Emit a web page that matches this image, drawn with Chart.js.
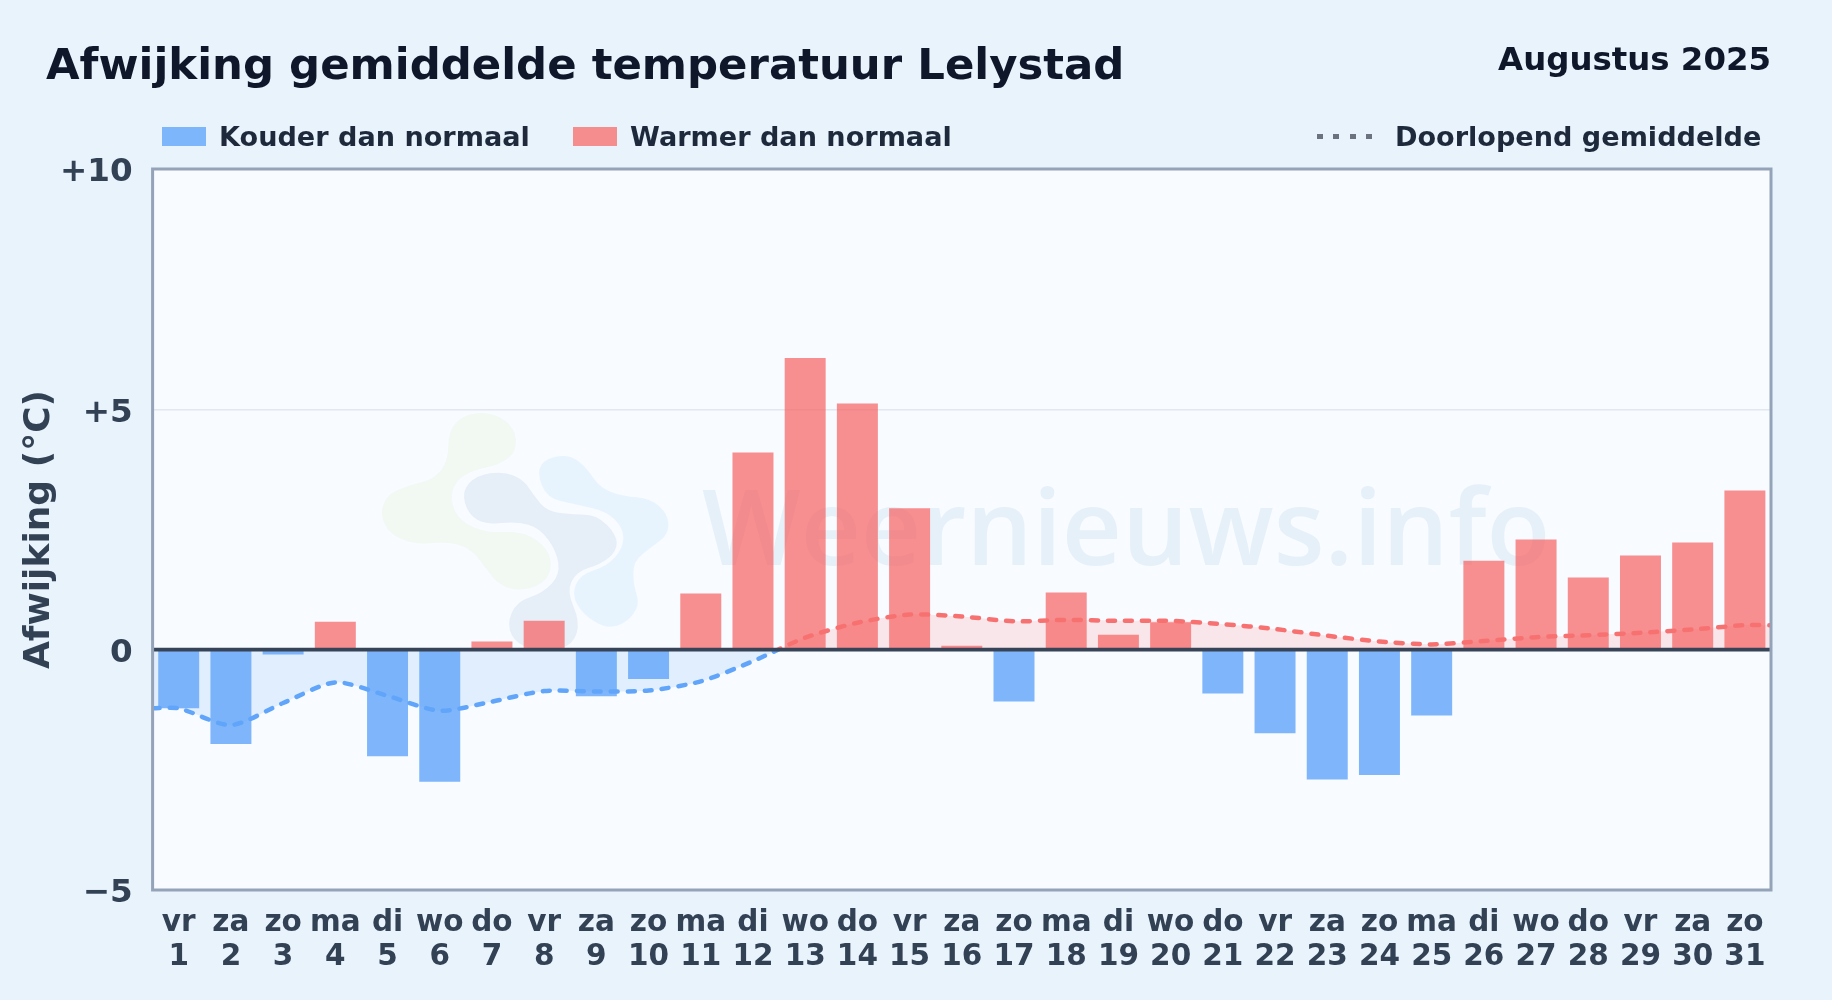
<!DOCTYPE html>
<html lang="nl">
<head>
<meta charset="utf-8">
<title>Afwijking gemiddelde temperatuur Lelystad</title>
<script src="https://cdn.jsdelivr.net/npm/chart.js@4"></script>
<style>
  html, body { margin: 0; padding: 0; background: #e8f3fc; }
  #wrap { position: relative; width: 1832px; height: 1000px; overflow: hidden; font-family: "DejaVu Sans", sans-serif; font-weight: bold; }
  #myChart { position: absolute; left: 0; top: 0; }
  .txt { position: absolute; white-space: nowrap; line-height: 1; }
  #title { left: 46px; top: 43px; font-size: 43.4px; color: #0f172a; }
  #month { right: 61px; top: 43px; font-size: 32.4px; color: #0f172a; }
  .lg { top: 123px; font-size: 27.1px; color: #1e293b; }
  .swatch { position: absolute; top: 127px; width: 44px; height: 19px; }
  #dots { position: absolute; left: 1317px; top: 134px; width: 56px; height: 5px; background: repeating-linear-gradient(90deg, #6b7280 0 6px, transparent 6px 16.4px); }
</style>
</head>
<body>
<div id="wrap">
  <canvas id="myChart" width="1832" height="1000"></canvas>
  <div class="txt" id="title">Afwijking gemiddelde temperatuur Lelystad</div>
  <div class="txt" id="month">Augustus 2025</div>
  <div class="swatch" style="left:162px;background:#7eb6fb"></div>
  <div class="txt lg" style="left:219px">Kouder dan normaal</div>
  <div class="swatch" style="left:573px;background:#f58d8f"></div>
  <div class="txt lg" style="left:630px">Warmer dan normaal</div>
  <div id="dots"></div>
  <div class="txt lg" style="left:1395px">Doorlopend gemiddelde</div>
</div>
<script>
var weekdays = ['vr','za','zo','ma','di','wo','do','vr','za','zo','ma','di','wo','do','vr','za','zo','ma','di','wo','do','vr','za','zo','ma','di','wo','do','vr','za','zo'];
var days = [1,2,3,4,5,6,7,8,9,10,11,12,13,14,15,16,17,18,19,20,21,22,23,24,25,26,27,28,29,30,31];
var deviation = [-1.22,-1.96,-0.1,0.58,-2.22,-2.75,0.17,0.6,-0.97,-0.61,1.17,4.1,6.07,5.12,2.94,0.08,-1.08,1.19,0.31,0.57,-0.91,-1.74,-2.7,-2.61,-1.37,1.85,2.29,1.5,1.96,2.23,3.31];
var runningMean = [-1.22,-1.57,-1.11,-0.68,-0.96,-1.27,-1.08,-0.86,-0.87,-0.85,-0.66,-0.24,0.25,0.56,0.73,0.69,0.59,0.62,0.6,0.6,0.53,0.43,0.29,0.17,0.11,0.18,0.26,0.3,0.35,0.42,0.51];
var yTicks = {'10':'+10','5':'+5','0':'0','-5':'\u22125'};

var FONT = '"DejaVu Sans", sans-serif';

// the mean runs on to both plot edges, so it gets its own hidden x axis
var meanPoints = [{x: 0.5, y: runningMean[0]}];
days.forEach(function (d, i) { meanPoints.push({x: d, y: runningMean[i]}); });
meanPoints.push({x: 31.5, y: runningMean[30]});

// closed smooth blob through the given points, for the faint logo
function blob(c, pts, ox, oy, s) {
  var n = pts.length;
  c.beginPath();
  for (var i = 0; i < n; i++) {
    var a = pts[i], b = pts[(i + 1) % n];
    var mx = ox + (a[0] + b[0]) / 2 * s, my = oy + (a[1] + b[1]) / 2 * s;
    if (i === 0) c.moveTo(mx, my);
    else c.quadraticCurveTo(ox + a[0] * s, oy + a[1] * s, mx, my);
  }
  var a0 = pts[0], b0 = pts[1];
  c.quadraticCurveTo(ox + a0[0] * s, oy + a0[1] * s, ox + (a0[0] + b0[0]) / 2 * s, oy + (a0[1] + b0[1]) / 2 * s);
  c.closePath();
  c.fill();
}

var logoGreen = [[265,130],[310,80],[400,72],[465,120],[470,190],[420,230],[340,245],[285,280],[270,340],[300,400],[380,435],[480,430],[550,465],[580,530],[550,590],[470,610],[410,585],[370,530],[330,480],[260,460],[170,470],[90,440],[60,380],[80,320],[150,290],[220,275],[265,220]];
var logoSlate = [[305,310],[350,262],[430,250],[490,275],[520,320],[560,370],[640,380],[710,380],[770,440],[770,490],[720,530],[650,550],[620,610],[660,700],[640,770],[560,795],[470,770],[440,710],[470,640],[550,615],[600,560],[590,490],[540,420],[470,400],[380,410],[325,380]];
var logoSky = [[530,250],[560,210],[630,200],[680,240],[720,300],[790,325],[870,330],[925,380],[925,440],[870,480],[820,520],[820,590],[840,650],[800,705],[740,722],[670,680],[635,620],[660,560],[740,535],[790,480],[790,420],[740,370],[650,350],[560,330]];

var plotDecor = {
  id: 'plotDecor',
  beforeDraw: function (chart) {
    var c = chart.ctx, a = chart.chartArea;
    c.save();
    c.fillStyle = '#f8fbff';
    c.fillRect(a.left, a.top, a.width, a.height);
    c.fillStyle = '#f2f8f2'; blob(c, logoGreen, 360, 388, 1 / 3);
    c.fillStyle = '#e6eef7'; blob(c, logoSlate, 360, 388, 1 / 3);
    c.fillStyle = '#e7f4fe'; blob(c, logoSky, 360, 388, 1 / 3);
    c.font = '600 104.5px "Open Sans", sans-serif';
    c.fillStyle = '#e6f0f9';
    c.textBaseline = 'alphabetic';
    c.fillText('Weernieuws.info', 702, 565);
    c.restore();
  },
  afterDatasetsDraw: function (chart) {
    var c = chart.ctx, a = chart.chartArea, y0 = chart.scales.y.getPixelForValue(0);
    c.save();
    c.strokeStyle = '#374357';
    c.lineWidth = 3.8;
    c.beginPath(); c.moveTo(a.left, y0); c.lineTo(a.right, y0); c.stroke();
    c.strokeStyle = '#94a3b8';
    c.lineWidth = 3;
    c.strokeRect(a.left, a.top, a.width, a.height);
    c.restore();
  }
};

// hard colour change where the mean crosses zero
function meanColor(ctx) {
  var chart = ctx.chart, a = chart.chartArea;
  if (!a) return '#60a5fa';
  var g = chart.ctx.createLinearGradient(0, a.top, 0, a.bottom);
  var stop = (chart.scales.y.getPixelForValue(0) - a.top) / a.height;
  g.addColorStop(0, '#f87171');
  g.addColorStop(stop, '#f87171');
  g.addColorStop(stop, '#60a5fa');
  g.addColorStop(1, '#60a5fa');
  return g;
}

var ctx = document.getElementById('myChart').getContext('2d');
var myChart = new Chart(ctx, {
  data: {
    labels: days.map(function (d, i) { return [weekdays[i], String(d)]; }),
    datasets: [
      {
        type: 'line',
        label: 'Doorlopend gemiddelde',
        data: meanPoints,
        xAxisID: 'x2',
        order: 0,
        borderColor: meanColor,
        borderWidth: 4.5,
        borderDash: [7, 10],
        borderCapStyle: 'round',
        pointRadius: 0,
        tension: 0.25,
        fill: { target: { value: 0 }, above: 'rgba(248,113,113,0.15)', below: 'rgba(96,165,250,0.15)' }
      },
      {
        type: 'bar',
        label: 'Afwijking',
        data: deviation,
        order: 1,
        grouped: false,
        barPercentage: 0.785,
        categoryPercentage: 1,
        backgroundColor: function (c) { return c.raw < 0 ? 'rgba(96,165,250,0.8)' : 'rgba(246,100,100,0.72)'; }
      }
    ]
  },
  options: {
    responsive: false,
    animation: false,
    layout: { padding: { top: 169, right: 61, left: 0, bottom: 0 } },
    plugins: { legend: { display: false }, title: { display: false }, tooltip: { enabled: false } },
    scales: {
      x: {
        grid: { display: false },
        border: { display: false },
        afterFit: function (s) { s.height = 110; },
        ticks: {
          color: '#334155',
          font: { family: FONT, size: 29.5, weight: 'bold', lineHeight: 1.15 },
          autoSkip: false, maxRotation: 0, minRotation: 0, padding: 8
        }
      },
      x2: { type: 'linear', display: false, min: 0.5, max: 31.5 },
      y: {
        min: -5,
        max: 10,
        afterFit: function (s) { s.width = 152.6; },
        border: { display: false },
        grid: {
          drawTicks: false,
          lineWidth: 1.5,
          color: function (c) { return c.tick.value === 5 ? '#e2e8f0' : 'transparent'; }
        },
        ticks: {
          stepSize: 5,
          color: '#334155',
          padding: 20,
          labelOffset: 4,
          font: { family: FONT, size: 32.6, weight: 'bold' },
          callback: function (v) { return yTicks[String(v)]; }
        },
        title: {
          display: true,
          text: 'Afwijking (\u00b0C)',
          color: '#334155',
          padding: { top: 18, bottom: 0 },
          font: { family: FONT, size: 36, weight: 'bold' }
        }
      }
    }
  },
  plugins: [plotDecor]
});
</script>
</body>
</html>
